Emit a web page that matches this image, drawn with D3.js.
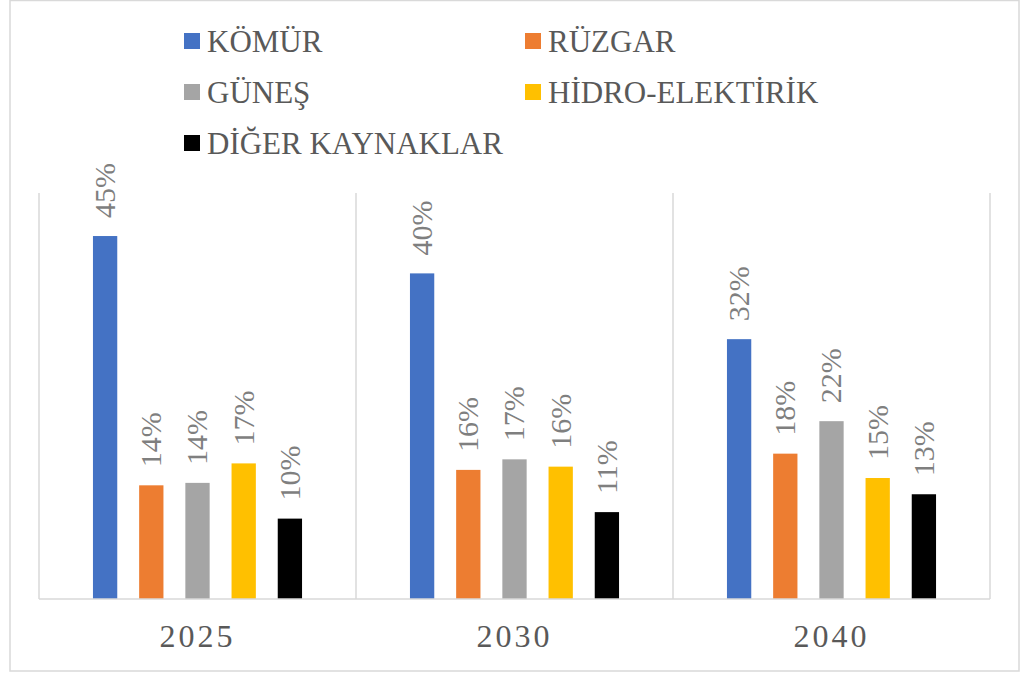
<!DOCTYPE html>
<html>
<head>
<meta charset="utf-8">
<script src="https://cdn.jsdelivr.net/npm/d3@7"></script>
<style>
  body { margin: 0; background: #fff; }
</style>
</head>
<body>
<svg id="drawing_region"></svg>
<script>
const years = ["2025", "2030", "2040"];
const series = ["KÖMÜR", "RÜZGAR", "GÜNEŞ", "HİDRO-ELEKTİRİK", "DİĞER KAYNAKLAR"];
const colors = ["#4472c4", "#ed7d31", "#a5a5a5", "#ffc000", "#000000"];

// values in % per series, one per year
const komur = [44.7, 40.1, 32.0];
const ruzgar = [14.0, 15.9, 17.9];
const gunes = [14.3, 17.2, 21.9];
const hidro = [16.7, 16.3, 14.9];
const diger = [9.9, 10.7, 12.9];
const values = [komur, ruzgar, gunes, hidro, diger];

const yTicks = [0, 50];

const width = 1028, height = 675;
const plot = {left: 39, right: 990, top: 193, bottom: 599};
const serif = "'Liberation Serif', 'DejaVu Serif', serif";

const svg = d3.select('#drawing_region')
    .attr('width', width)
    .attr('height', height)
    .style('display', 'block');

// outer chart border
svg.append('rect')
    .attr('x', 10).attr('y', 0.5)
    .attr('width', 1009).attr('height', 670.5)
    .attr('fill', 'none')
    .attr('stroke', '#d9d9d9')
    .attr('stroke-width', 1.5);

const x0 = d3.scaleBand()
    .domain(years)
    .range([plot.left, plot.right])
    .padding(0);

const x1 = d3.scaleBand()
    .domain(series)
    .range([0, x0.bandwidth()])
    .paddingInner(0.474)
    .paddingOuter(1.168);

const y = d3.scaleLinear()
    .domain(d3.extent(yTicks))
    .range([plot.bottom, plot.top]);

// group separators
const seps = years.map(d => x0(d)).concat([plot.right]);
svg.append('g').selectAll('line')
    .data(seps)
    .join('line')
    .attr('x1', d => d).attr('x2', d => d)
    .attr('y1', y(50)).attr('y2', y(0))
    .attr('stroke', '#d9d9d9')
    .attr('stroke-width', 1.5);

// bars
const rows = [];
series.forEach((s, i) => {
    years.forEach((yr, j) => {
        rows.push({series: s, year: yr, value: values[i][j], color: colors[i]});
    });
});

svg.append('g').selectAll('rect')
    .data(rows)
    .join('rect')
    .attr('x', d => x0(d.year) + x1(d.series))
    .attr('y', d => y(d.value))
    .attr('width', x1.bandwidth())
    .attr('height', d => y(0) - y(d.value))
    .attr('fill', d => d.color);

// baseline
svg.append('line')
    .attr('x1', plot.left).attr('x2', plot.right)
    .attr('y1', y(0)).attr('y2', y(0))
    .attr('stroke', '#d9d9d9')
    .attr('stroke-width', 1.5);

// data labels
svg.append('g').selectAll('text')
    .data(rows)
    .join('text')
    .attr('transform', d => `translate(${x0(d.year) + x1(d.series) + x1.bandwidth() / 2}, ${y(d.value) - 18}) rotate(-90)`)
    .attr('dy', '0.33em')
    .attr('text-anchor', 'start')
    .attr('font-family', serif)
    .attr('font-size', '30px')
    .attr('fill', '#7f7f7f')
    .text(d => Math.round(d.value) + '%');

// x axis labels
svg.append('g').selectAll('text')
    .data(years)
    .join('text')
    .attr('x', d => x0(d) + x0.bandwidth() / 2)
    .attr('y', 647)
    .attr('text-anchor', 'middle')
    .attr('font-family', serif)
    .attr('font-size', '32px')
    .attr('letter-spacing', '3px')
    .attr('fill', '#595959')
    .text(d => d);

// legend
const legendX = [184, 525];
const legendY = [41, 92, 143];
const legend = svg.append('g').selectAll('g')
    .data(series)
    .join('g')
    .attr('transform', (d, i) => `translate(${legendX[i % 2]}, ${legendY[Math.floor(i / 2)]})`);

legend.append('rect')
    .attr('x', 0).attr('y', -8)
    .attr('width', 16).attr('height', 16)
    .attr('fill', (d, i) => colors[i]);

legend.append('text')
    .attr('x', 23)
    .attr('y', 11)
    .attr('font-family', serif)
    .attr('font-size', '31px')
    .attr('fill', '#595959')
    .text(d => d);
</script>
</body>
</html>
